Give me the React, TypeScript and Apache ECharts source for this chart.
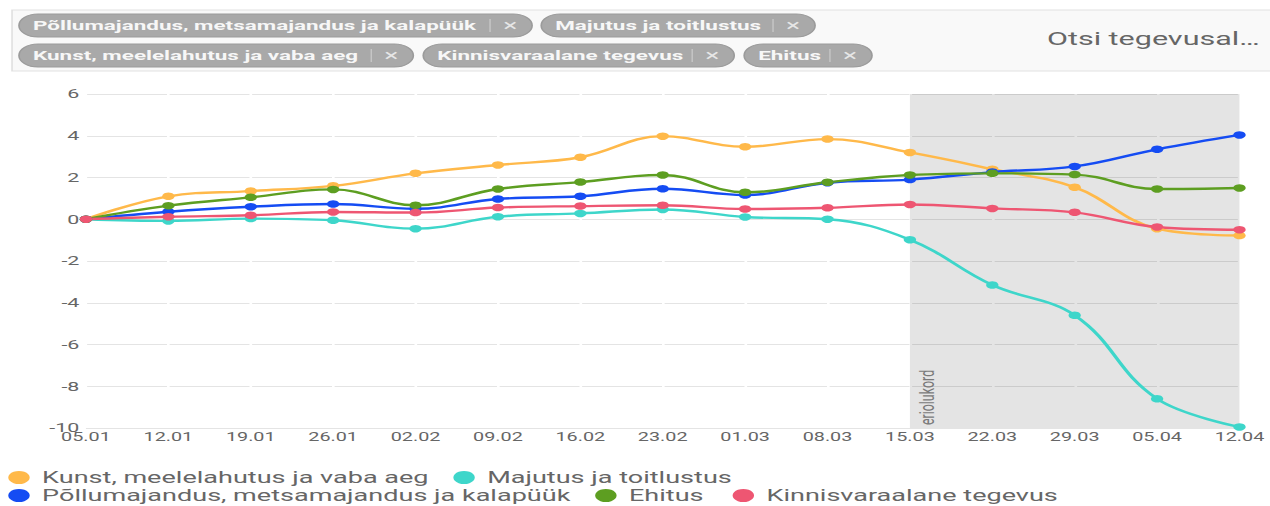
import React, { useEffect, useRef } from "react";
import * as echarts from "echarts";

// ---- data ----
const dates = ["05.01", "12.01", "19.01", "26.01", "02.02", "09.02", "16.02", "23.02", "01.03", "08.03", "15.03", "22.03", "29.03", "05.04", "12.04"];
const yTicks = { min: -10, max: 6, interval: 2 };

const nameKunst = "Kunst, meelelahutus ja vaba aeg";
const nameMajutus = "Majutus ja toitlustus";
const namePollu = "Põllumajandus, metsamajandus ja kalapüük";
const nameEhitus = "Ehitus";
const nameKinnis = "Kinnisvaraalane tegevus";

const kunst = [0, 1.1, 1.35, 1.6, 2.2, 2.6, 2.97, 3.98, 3.47, 3.84, 3.2, 2.4, 1.53, -0.45, -0.78];
const majutus = [0, -0.08, 0.03, -0.05, -0.45, 0.12, 0.28, 0.47, 0.11, 0.0, -0.98, -3.15, -4.6, -8.6, -9.95];
const pollu = [0, 0.36, 0.6, 0.73, 0.5, 0.97, 1.1, 1.46, 1.16, 1.75, 1.9, 2.26, 2.53, 3.35, 4.04];
const ehitus = [0, 0.65, 1.05, 1.43, 0.67, 1.45, 1.78, 2.12, 1.29, 1.77, 2.12, 2.2, 2.14, 1.45, 1.5];
const kinnis = [0, 0.12, 0.19, 0.35, 0.32, 0.56, 0.63, 0.67, 0.49, 0.55, 0.71, 0.52, 0.33, -0.37, -0.5];

const periodName = "eriolukord";
const periodStart = "15.03";
const periodEnd = "12.04";

const chipLabels = [namePollu, nameMajutus, nameKunst, nameKinnis, nameEhitus];
const searchPlaceholder = "Otsi tegevusal…";

// ---- layout / style ----
const SX = 1.65; // horizontal stretch of the reference
const W = 1270 / SX;
const H = 506;
const FONT = "Roboto, 'Noto Sans', sans-serif";

const colors: Record<string, string> = {
  [nameKunst]: "#FFB94A",
  [nameMajutus]: "#3ED6CA",
  [namePollu]: "#154CF3",
  [nameEhitus]: "#5D9E21",
  [nameKinnis]: "#EE5672",
};

// chip boxes in (unstretched) layout px: x, y, width
const chipBoxes = [
  [11.5, 14, 311],
  [328, 14, 166],
  [11.5, 44, 239],
  [256.5, 44, 188.5],
  [451, 44, 77.5],
];

function buildOption() {
  const seriesDefs = [
    [nameKunst, kunst],
    [nameMajutus, majutus],
    [namePollu, pollu],
    [nameEhitus, ehitus],
    [nameKinnis, kinnis],
  ] as [string, number[]][];

  const lineSeries: any[] = seriesDefs.map(([name, data]) => ({
    name,
    type: "line",
    data,
    smooth: 0.4,
    symbol: "circle",
    symbolSize: 7.5,
    showSymbol: true,
    z: 3,
    lineStyle: { width: 2.4, color: colors[name] },
    itemStyle: { color: colors[name] },
  }));

  const areaSeries = {
    name: "__period",
    type: "line",
    data: [],
    z: 2,
    silent: true,
    markArea: {
      silent: true,
      itemStyle: { color: "rgba(0,0,0,0.105)" },
      label: {
        show: true,
        position: [4, 331],
        rotate: 90,
        align: "left",
        verticalAlign: "top",
        fontSize: 12.4,
        fontFamily: FONT,
        color: "#7a7a7a",
      },
      data: [[{ name: periodName, xAxis: periodStart }, { xAxis: periodEnd }]],
    },
  };

  const graphics: any[] = [
    {
      type: "rect",
      shape: { x: 7.3, y: 10, width: W + 10, height: 61 },
      style: { fill: "#f9f9f9", stroke: "#e1e1e1", lineWidth: 1 },
      z: 0,
    },
  ];
  chipLabels.forEach((label, i) => {
    const [x, y, w] = chipBoxes[i];
    graphics.push({
      type: "group",
      children: [
        {
          type: "rect",
          shape: { x, y, width: w, height: 23, r: 11.5 },
          style: { fill: "#a9a9a9", stroke: "#9b9b9b", lineWidth: 1 },
        },
        {
          type: "text",
          x: x + 8.5,
          y: y + 12,
          style: {
            text: label,
            fill: "#f7f7f7",
            fontSize: 13.6,
            fontWeight: "bold",
            fontFamily: FONT,
            verticalAlign: "middle",
            align: "left",
          },
        },
        {
          type: "line",
          shape: { x1: x + w - 25.5, y1: y + 5, x2: x + w - 25.5, y2: y + 18 },
          style: { stroke: "#c9c9c9", lineWidth: 0.8 },
        },
        {
          type: "text",
          x: x + w - 13.3,
          y: y + 12,
          style: {
            text: "×",
            fill: "#e6e6e6",
            fontSize: 16,
            fontFamily: FONT,
            verticalAlign: "middle",
            align: "center",
          },
        },
      ],
    });
  });
  graphics.push({
    type: "text",
    x: 634.5,
    y: 39,
    style: {
      text: searchPlaceholder,
      fill: "#666",
      fontSize: 18.5,
      fontFamily: FONT,
      verticalAlign: "middle",
      align: "left",
    },
  });

  const legendCommon = {
    padding: 0,
    orient: "horizontal",
    icon: "circle",
    itemWidth: 18,
    itemHeight: 13,
    itemGap: 15,
    selectedMode: false,
    textStyle: { fontSize: 16.4, color: "#666", fontFamily: FONT },
  };

  return {
    animation: false,
    backgroundColor: "#fff",
    textStyle: { fontFamily: FONT },
    graphic: graphics,
    legend: [
      { ...legendCommon, left: 5, top: 469.5, data: [nameKunst, nameMajutus] },
      { ...legendCommon, left: 5, top: 487.5, data: [namePollu, nameEhitus] },
      { ...legendCommon, left: 444, top: 487.5, data: [nameKinnis] },
    ],
    grid: { left: 52.1, right: 18.5, top: 94, bottom: 78, containLabel: false },
    xAxis: {
      type: "category",
      data: dates,
      boundaryGap: false,
      z: 1,
      axisLine: { show: false },
      axisTick: { show: false },
      splitLine: { show: true, lineStyle: { color: "#ffffff", width: 1.6 } },
      axisLabel: { color: "#666", fontSize: 12, fontFamily: FONT, margin: 3, interval: 0 },
    },
    yAxis: {
      type: "value",
      min: yTicks.min,
      max: yTicks.max,
      interval: yTicks.interval,
      z: 0,
      axisLine: { show: false },
      axisTick: { show: false },
      axisLabel: { color: "#666", fontSize: 13, fontFamily: FONT, margin: 4 },
      splitLine: { lineStyle: { color: "#e4e4e4", width: 1.2 } },
    },
    series: [areaSeries, ...lineSeries],
  };
}

export default function App() {
  const ref = useRef<HTMLDivElement>(null);
  useEffect(() => {
    if (!ref.current) return;
    const chart = echarts.init(ref.current, undefined, { renderer: "svg", width: W, height: H });
    chart.setOption(buildOption() as any);
    return () => chart.dispose();
  }, []);
  return (
    <div
      style={{
        position: "fixed",
        left: 0,
        top: 0,
        width: W,
        height: H,
        transform: `scaleX(${SX})`,
        transformOrigin: "0 0",
        background: "#fff",
      }}
    >
      <div ref={ref} style={{ width: W, height: H }} />
    </div>
  );
}
